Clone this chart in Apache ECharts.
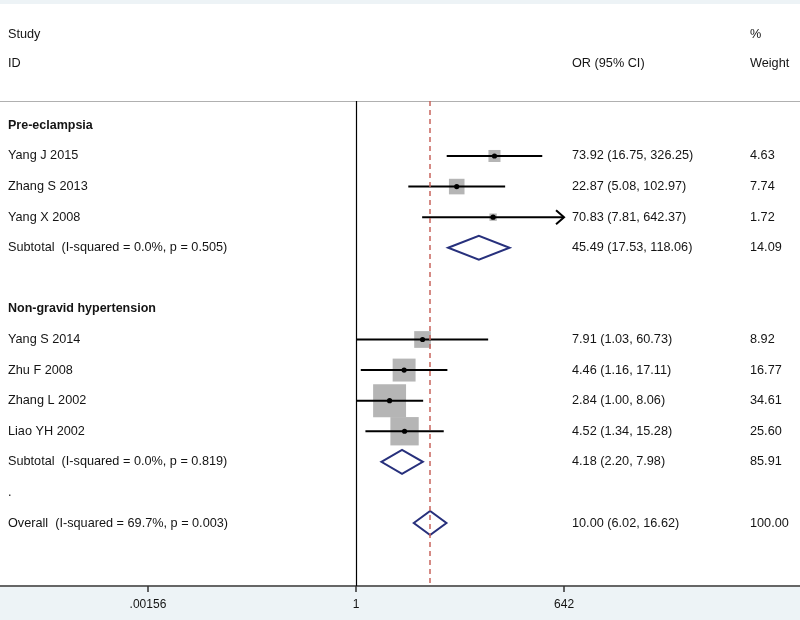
<!DOCTYPE html>
<html><head><meta charset="utf-8">
<script src="https://cdn.jsdelivr.net/npm/echarts@6/dist/echarts.min.js"></script>
<style>html,body{margin:0;padding:0;background:#fff}#c{width:800px;height:620px}</style>
</head><body><div id="c"></div>
<script>
// ---- data ----
const rowLabels = ['Pre-eclampsia','Yang J 2015','Zhang S 2013','Yang X 2008','Subtotal  (I-squared = 0.0%, p = 0.505)','',
  'Non-gravid hypertension','Yang S 2014','Zhu F 2008','Zhang L 2002','Liao YH 2002','Subtotal  (I-squared = 0.0%, p = 0.819)','.',
  'Overall  (I-squared = 69.7%, p = 0.003)'];
const boldRows = [0, 6];

const studyRow = [1, 2, 3, 7, 8, 9, 10];
const studyOR  = [73.92, 22.87, 70.83, 7.91, 4.46, 2.84, 4.52];
const studyLo  = [16.75, 5.08, 7.81, 1.03, 1.16, 1.00, 1.34];
const studyHi  = [326.25, 102.97, 642.37, 60.73, 17.11, 8.06, 15.28];
const studyW   = [4.63, 7.74, 1.72, 8.92, 16.77, 34.61, 25.60];

const poolRow = [4, 11, 13];
const poolOR  = [45.49, 4.18, 10.00];
const poolLo  = [17.53, 2.20, 6.02];
const poolHi  = [118.06, 7.98, 16.62];
const poolW   = [14.09, 85.91, 100.00];

const tickValues = [1/642, 1, 642];
const tickLabels = ['.00156', '1', '642'];
const overallOR = 10.00;

// ---- helpers ----
const L = v => Math.log10(v);
const FONT = '12.7px "Liberation Sans", Arial, sans-serif';
const BFONT = 'bold 12.5px "Liberation Sans", Arial, sans-serif';
const TXT = '#141414';
const fmt = v => v.toFixed(2);

const textRows = [], orTexts = [], wTexts = [];
studyRow.forEach((r, i) => { textRows.push(r); orTexts.push(`${fmt(studyOR[i])} (${fmt(studyLo[i])}, ${fmt(studyHi[i])})`); wTexts.push(fmt(studyW[i])); });
poolRow.forEach((r, i) => { textRows.push(r); orTexts.push(`${fmt(poolOR[i])} (${fmt(poolLo[i])}, ${fmt(poolHi[i])})`); wTexts.push(fmt(poolW[i])); });

const axMinL = L(tickValues[0]), axMaxL = L(tickValues[2]);
const xMin = (0 - 356) / 74.1, xMax = (800 - 356) / 74.1;

const chart = echarts.init(document.getElementById('c'), null, {renderer: 'canvas'});
chart.setOption({
  backgroundColor: '#fff',
  animation: false,
  grid: {left: 0, right: 0, top: 101, bottom: 34, containLabel: false},
  xAxis: [{
    type: 'value', position: 'bottom', min: xMin, max: xMax,
    axisLine: {show: true, onZero: false, lineStyle: {color: '#333', width: 1.5}},
    axisTick: {show: true, customValues: tickValues.map(L), length: 6, lineStyle: {color: '#333', width: 1.5}},
    axisLabel: {show: true, customValues: tickValues.map(L), margin: 13, color: TXT,
      fontSize: 12, fontFamily: '"Liberation Sans", Arial, sans-serif',
      formatter: v => { const k = tickValues.map(L).findIndex(t => Math.abs(t - v) < 1e-6); return k >= 0 ? tickLabels[k] : ''; }},
    splitLine: {show: false}
  }, {
    type: 'value', position: 'top', min: xMin, max: xMax,
    axisLine: {show: true, onZero: false, lineStyle: {color: '#b0b0b0', width: 1}},
    axisTick: {show: false}, axisLabel: {show: false}, splitLine: {show: false}
  }],
  yAxis: {type: 'value', inverse: true, min: -0.798, max: 15.06, show: false, splitLine: {show: false}},
  graphic: [
    {type: 'rect', shape: {x: 0, y: 0, width: 800, height: 4}, style: {fill: '#edf3f6'}, z: -10},
    {type: 'rect', shape: {x: 0, y: 587, width: 800, height: 33}, style: {fill: '#edf3f6'}, z: -10},
    {type: 'text', x: 8, y: 34, style: {text: 'Study', font: FONT, fill: TXT, verticalAlign: 'middle'}},
    {type: 'text', x: 8, y: 63, style: {text: 'ID', font: FONT, fill: TXT, verticalAlign: 'middle'}},
    {type: 'text', x: 572, y: 63, style: {text: 'OR (95% CI)', font: FONT, fill: TXT, verticalAlign: 'middle'}},
    {type: 'text', x: 750, y: 34, style: {text: '%', font: FONT, fill: TXT, verticalAlign: 'middle'}},
    {type: 'text', x: 750, y: 63, style: {text: 'Weight', font: FONT, fill: TXT, verticalAlign: 'middle'}}
  ],
  series: [
    { // reference lines
      type: 'line', data: [], xAxisIndex: 0,
      markLine: {silent: true, symbol: 'none', label: {show: false}, animation: false,
        data: [
          {xAxis: 0, lineStyle: {color: '#000', width: 1.2, type: 'solid'}},
          {xAxis: L(overallOR), lineStyle: {color: '#c8645c', width: 1.5, type: [5, 4]}}
        ]}
    },
    { // studies
      type: 'custom', xAxisIndex: 0,
      data: studyOR.map((v, i) => [L(v), studyRow[i], L(studyLo[i]), L(studyHi[i]), studyW[i]]),
      encode: {x: [0, 2, 3], y: 1},
      renderItem: (params, api) => {
        const y = api.coord([0, api.value(1)])[1];
        const xc = api.coord([api.value(0), 0])[0];
        const loL = Math.max(api.value(2), axMinL), hiL = Math.min(api.value(3), axMaxL);
        const xl = api.coord([loL, 0])[0], xh = api.coord([hiL, 0])[0];
        const s = 5.6 * Math.sqrt(api.value(4));
        const kids = [
          {type: 'rect', shape: {x: xc - s / 2, y: y - s / 2, width: s, height: s}, style: {fill: '#b5b5b5'}},
          {type: 'line', shape: {x1: xl, y1: y, x2: xh, y2: y}, style: {stroke: '#000', lineWidth: 2}},
          {type: 'circle', shape: {cx: xc, cy: y, r: 2.6}, style: {fill: '#000'}}
        ];
        if (api.value(3) > axMaxL) kids.push({type: 'polyline', shape: {points: [[xh - 8, y - 7], [xh, y], [xh - 8, y + 7]]}, style: {stroke: '#000', lineWidth: 2, fill: null}});
        if (api.value(2) < axMinL) kids.push({type: 'polyline', shape: {points: [[xl + 8, y - 7], [xl, y], [xl + 8, y + 7]]}, style: {stroke: '#000', lineWidth: 2, fill: null}});
        return {type: 'group', children: kids};
      }
    },
    { // pooled diamonds
      type: 'custom', xAxisIndex: 0,
      data: poolOR.map((v, i) => [L(v), poolRow[i], L(poolLo[i]), L(poolHi[i])]),
      encode: {x: [0, 2, 3], y: 1},
      renderItem: (params, api) => {
        const y = api.coord([0, api.value(1)])[1];
        const xc = api.coord([api.value(0), 0])[0];
        const xl = api.coord([api.value(2), 0])[0], xh = api.coord([api.value(3), 0])[0];
        const h = 12;
        return {type: 'polygon', shape: {points: [[xl, y], [xc, y - h], [xh, y], [xc, y + h]]},
          style: {stroke: '#27307c', lineWidth: 2, fill: null}};
      }
    },
    { // left labels
      type: 'custom', xAxisIndex: 0,
      data: rowLabels.map((t, r) => [0, r]),
      encode: {y: 1},
      renderItem: (params, api) => {
        const r = params.dataIndex;
        const y = api.coord([0, api.value(1)])[1];
        return {type: 'text', x: 8, y: y, style: {text: rowLabels[r], font: boldRows.includes(r) ? BFONT : FONT, fill: TXT, verticalAlign: 'middle'}};
      }
    },
    { // OR and weight columns
      type: 'custom', xAxisIndex: 0,
      data: textRows.map(r => [0, r]),
      encode: {y: 1},
      renderItem: (params, api) => {
        const i = params.dataIndex;
        const y = api.coord([0, api.value(1)])[1];
        return {type: 'group', children: [
          {type: 'text', x: 572, y: y, style: {text: orTexts[i], font: FONT, fill: TXT, verticalAlign: 'middle'}},
          {type: 'text', x: 750, y: y, style: {text: wTexts[i], font: FONT, fill: TXT, verticalAlign: 'middle'}}
        ]};
      }
    }
  ]
});
</script></body></html>
